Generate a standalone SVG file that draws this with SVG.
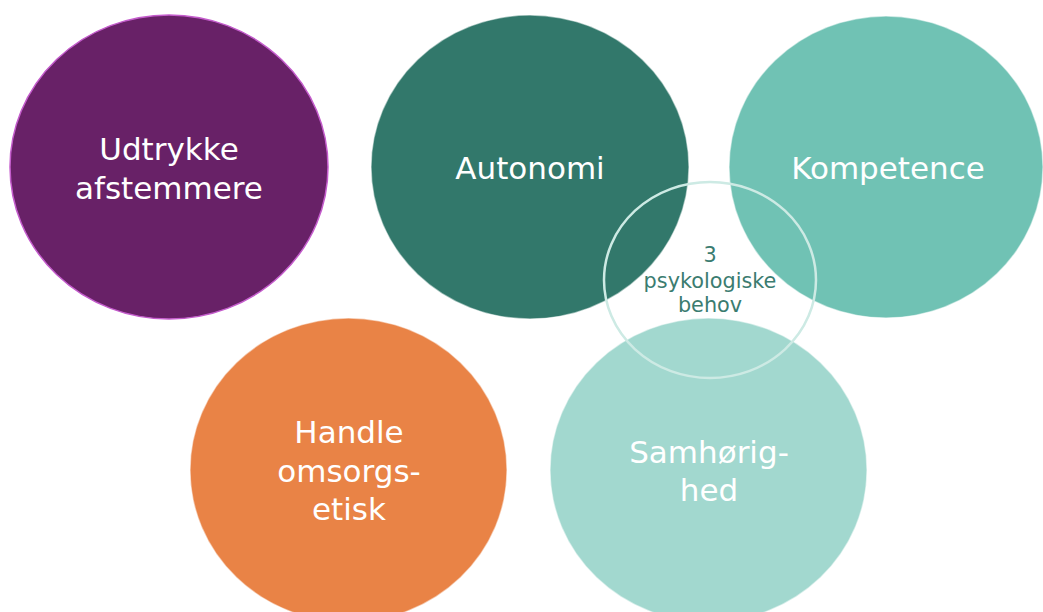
<svg xmlns="http://www.w3.org/2000/svg" width="1043" height="612" viewBox="0 0 1043 612">
<style>
.big{font-family:"DejaVu Sans","Liberation Sans",sans-serif;font-size:31px;fill:#ffffff;text-anchor:middle}
.small{font-family:"DejaVu Sans","Liberation Sans",sans-serif;font-size:20.8px;fill:#3b7c70;text-anchor:middle}
.edge{stroke:#ffffff;stroke-opacity:0.5;stroke-width:1.5}
</style>
<rect width="1043" height="612" fill="#ffffff"/>
<g id="udtrykke">
<ellipse cx="169" cy="167" rx="159" ry="152" fill="#682167" stroke="#c45ccc" stroke-width="1.5"/>
<text class="big" x="169" y="160">Udtrykke</text>
<text class="big" x="169" y="199">afstemmere</text>
</g>
<g id="autonomi">
<ellipse cx="530" cy="167" rx="159" ry="152" fill="#32786b" class="edge"/>
<text class="big" x="530" y="179">Autonomi</text>
</g>
<g id="kompetence">
<ellipse cx="886" cy="167" rx="157" ry="151" fill="#70c2b4" class="edge"/>
<text class="big" x="888" y="179">Kompetence</text>
</g>
<g id="handle">
<ellipse cx="348.5" cy="470" rx="158.5" ry="152" fill="#e98346" class="edge"/>
<text class="big" x="349" y="443">Handle</text>
<text class="big" x="349" y="482">omsorgs-</text>
<text class="big" x="349" y="520">etisk</text>
</g>
<g id="samhorighed">
<ellipse cx="708.5" cy="470" rx="158.5" ry="152" fill="#a2d8cf" class="edge"/>
<text class="big" x="709" y="463">Samhørig-</text>
<text class="big" x="709" y="501">hed</text>
</g>
<g id="center">
<ellipse cx="710" cy="280" rx="106" ry="98" fill="none" stroke="#cdeae4" stroke-width="2.5"/>
<text class="small" x="710" y="262">3</text>
<text class="small" x="710" y="288">psykologiske</text>
<text class="small" x="710" y="312">behov</text>
</g>
<g id="connectors"></g>
</svg>
